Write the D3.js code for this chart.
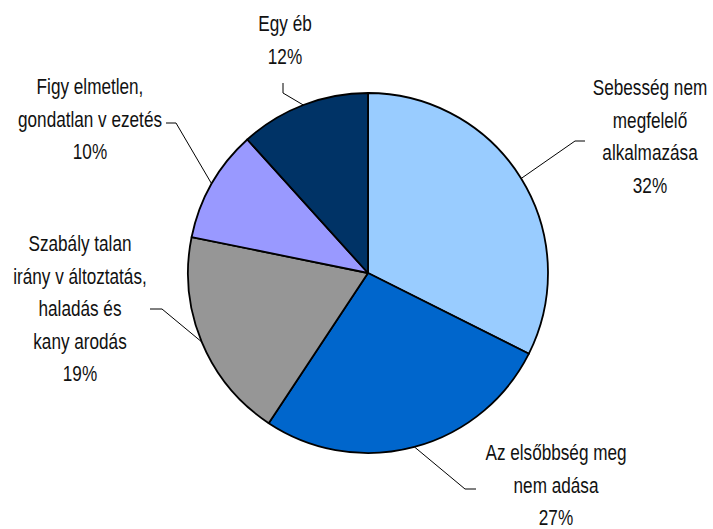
<!DOCTYPE html>
<meta charset="utf-8">
<script src="https://d3js.org/d3.v7.min.js"></script>
<style>
  body { margin: 0; background: #fff; }
  svg { display: block; }
  .lbl { font-family: "Liberation Sans", Arial, sans-serif; font-size: 22px; fill: #111; }
</style>
<body>
<div id="chart"></div>
<script>
// data (share of accidents by cause), clockwise from 12 o'clock
var causes = [
  ["Sebesség nem", "megfelelő", "alkalmazása"],
  ["Az elsőbbség meg", "nem adása"],
  ["Szabály talan", "irány v áltoztatás,", "haladás és", "kany arodás"],
  ["Figy elmetlen,", "gondatlan v ezetés"],
  ["Egy éb"]
];
var shares = [32.4, 26.9, 18.9, 10.1, 11.7];
var colors = ["#99CCFF", "#0066CC", "#969696", "#9999FF", "#003366"];

// label layout: centre x, first baseline, leader start + elbow
var labelPos = [
  {x: 650, y: 95,  line: [[585, 141], [575, 141]]},
  {x: 556, y: 460, line: [[476, 489], [465, 489]]},
  {x: 80,  y: 251, line: [[150, 309], [162, 309]]},
  {x: 90,  y: 94,  line: [[166, 123], [176, 123]]},
  {x: 285, y: 31,  line: [[283, 83], [283, 93]]}
];

var width = 713, height = 529;
var cx = 368, cy = 273, r = 180;
var lineGap = 32.5;

var svg = d3.select("#chart").append("svg")
  .attr("width", width)
  .attr("height", height);

var pie = d3.pie().sort(null).value(function(d) { return d; });
var arcs = pie(shares);
var total = d3.sum(shares);
var arc = d3.arc().innerRadius(0).outerRadius(r);

var g = svg.append("g").attr("transform", "translate(" + cx + "," + cy + ")");

g.selectAll("path")
  .data(arcs)
  .enter().append("path")
  .attr("d", arc)
  .attr("fill", function(d, i) { return colors[i]; })
  .attr("stroke", "#000")
  .attr("stroke-width", 1.8)
  .attr("stroke-linejoin", "round");

// leader lines
arcs.forEach(function(d, i) {
  var a = (d.startAngle + d.endAngle) / 2;
  var edge = [cx + r * Math.sin(a), cy - r * Math.cos(a)];
  var pts = labelPos[i].line.concat([edge]);
  svg.append("path")
    .attr("d", d3.line()(pts))
    .attr("fill", "none")
    .attr("stroke", "#000")
    .attr("stroke-width", 1);
});

// labels
var pct = d3.format(".0%");
arcs.forEach(function(d, i) {
  var lines = causes[i].concat([pct(shares[i] / total)]);
  var p = labelPos[i];
  lines.forEach(function(t, k) {
    svg.append("text")
      .attr("class", "lbl")
      .attr("text-anchor", "middle")
      .attr("transform", "translate(" + p.x + "," + (p.y + k * lineGap) + ") scale(0.78,1)")
      .text(t);
  });
});
</script>
</body>
